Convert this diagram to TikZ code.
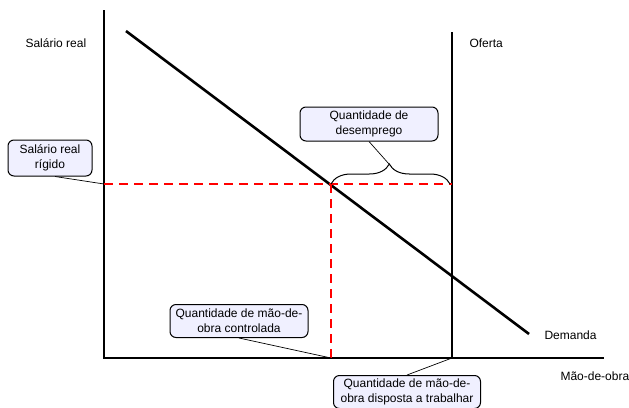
\documentclass[tikz,border=0pt]{standalone}
\usepackage{fontspec}
\setmainfont{Liberation Sans}
\usetikzlibrary{decorations.pathreplacing}
\begin{document}
\begin{tikzpicture}[x=1pt,y=-1pt,
  every node/.style={font=\fontsize{12}{15}\selectfont},
  callout/.style={draw=black,line width=1pt,rounded corners=6pt,fill=blue!6!white,align=center,inner sep=0pt},
  axis/.style={line width=1.3pt},
  thick line/.style={line width=2.6pt},
  dashline/.style={red,line width=1.3pt,dash pattern=on 9pt off 6pt},
  lead/.style={line width=0.7pt}]
\useasboundingbox (0,0) rectangle (629,407);
% axes
\coordinate (O) at (104,358);
\coordinate (ytop) at (104,10);
\coordinate (xend) at (604,358);
\draw[axis] (ytop) -- (O) -- (xend);
% supply
\coordinate (s1) at (452,32);
\coordinate (s2) at (452,358);
\draw[thick line] (s1) -- (s2);
% demand
\coordinate (d1) at (126,31);
\coordinate (d2) at (529,334);
\draw[thick line] (d1) -- (d2);
% dashed lines
\coordinate (w) at (104,184);
\coordinate (e) at (331,184);
\coordinate (ws) at (452,184);
\coordinate (eb) at (331,358);
\draw[dashline] (w) -- (ws);
\draw[dashline] (e) -- (eb);
% brace
\draw[line width=1pt,decorate,decoration={brace,amplitude=20pt,aspect=0.49}] (331,184) -- (450,184);
\coordinate (tip) at (389,164);
% labels
\node[anchor=west] (yl) at (22,43) {Salário real};
\node[anchor=west] (of) at (466,43) {Oferta};
\node[anchor=west] (dm) at (541,335) {Demanda};
\node[anchor=west] (xl) at (557,376) {Mão-de-obra};
% callouts
\node[callout,minimum width=84pt,minimum height=36pt] (c1) at (50,158) {Salário real\\rígido};
\node[callout,minimum width=138pt,minimum height=34pt] (c2) at (369,124) {Quantidade de\\desemprego};
\node[callout,minimum width=138pt,minimum height=33pt] (c3) at (239,321) {Quantidade de mão-de-\\obra controlada};
\node[callout,minimum width=147pt,minimum height=33pt,anchor=north] (c4) at (407,375) {Quantidade de mão-de-\\obra disposta a trabalhar};
% leaders
\draw[lead] (c1.south) ++(5,0) -- (w);
\draw[lead] (c2.south) -- (tip);
\draw[lead] (c3.south) -- (eb);
\draw[lead] (c4.north) -- (s2);
\end{tikzpicture}
\end{document}
